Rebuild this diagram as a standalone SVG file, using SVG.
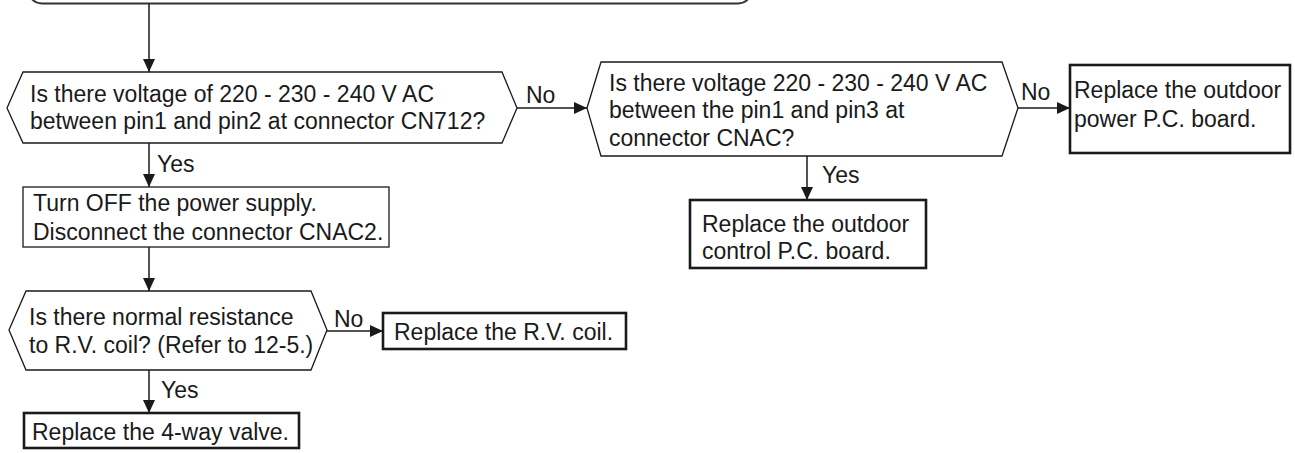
<svg xmlns="http://www.w3.org/2000/svg" width="1295" height="453" viewBox="0 0 1295 453">
<style>
text{font-family:"Liberation Sans",Arial,sans-serif;font-size:23px;fill:#1a1a1a}
.thin{fill:#fff;stroke:#1a1a1a;stroke-width:1.3}
.thick{fill:#fff;stroke:#1a1a1a;stroke-width:2.6}
.conn{fill:none;stroke:#1a1a1a;stroke-width:1.5}
</style>
<defs>
<marker id="ah" markerUnits="userSpaceOnUse" markerWidth="13" markerHeight="12" refX="13" refY="6" orient="auto">
<path d="M0,0 L13,6 L0,12 z" fill="#1a1a1a"/>
</marker>
</defs>
<rect width="1295" height="453" fill="#fff"/>
<g id="start">
<rect x="28" y="-40" width="724" height="43.5" rx="14" fill="#fff" stroke="#333" stroke-width="2"/>
</g>
<g id="q1">
<polygon class="thin" points="7,108 23,72 502,72 517,108 502,143 23,143"/>
<text x="30" y="102">Is there voltage of 220 - 230 - 240 V AC</text>
<text x="30" y="129">between pin1 and pin2 at connector CN712?</text>
</g>
<g id="q2">
<polygon class="thin" points="587,108 601,62 1002,62 1018,108 1002,156 601,156"/>
<text x="609" y="91">Is there voltage 220 - 230 - 240 V AC</text>
<text x="609" y="118">between the pin1 and pin3 at</text>
<text x="609" y="146">connector CNAC?</text>
</g>
<g id="powerpcb">
<rect class="thick" x="1070" y="65" width="220" height="88"/>
<text x="1074" y="98">Replace the outdoor</text>
<text x="1074" y="127">power P.C. board.</text>
</g>
<g id="controlpcb">
<rect class="thick" x="690" y="200" width="236" height="68"/>
<text x="702" y="232">Replace the outdoor</text>
<text x="702" y="259">control P.C. board.</text>
</g>
<g id="turnoff">
<rect class="thin" x="23" y="187" width="366" height="60"/>
<text x="33" y="211">Turn OFF the power supply.</text>
<text x="33" y="240">Disconnect the connector CNAC2.</text>
</g>
<g id="q3">
<polygon class="thin" points="9,330 26,291 311,291 327,330 311,370 26,370"/>
<text x="29" y="325">Is there normal resistance</text>
<text x="29" y="353">to R.V. coil? (Refer to 12-5.)</text>
</g>
<g id="rvcoil">
<rect class="thick" x="383" y="313" width="243" height="36"/>
<text x="394" y="340">Replace the R.V. coil.</text>
</g>
<g id="valve">
<rect class="thick" x="24" y="413" width="275" height="35"/>
<text x="32" y="440">Replace the 4-way valve.</text>
</g>
<g id="connectors">
<line class="conn" x1="149" y1="3.5" x2="149" y2="72" marker-end="url(#ah)"/>
<line class="conn" x1="517" y1="108" x2="587" y2="108" marker-end="url(#ah)"/>
<text x="526" y="103">No</text>
<line class="conn" x1="1018" y1="108" x2="1070" y2="108" marker-end="url(#ah)"/>
<text x="1021" y="100">No</text>
<line class="conn" x1="807" y1="156" x2="807" y2="200" marker-end="url(#ah)"/>
<text x="822" y="183">Yes</text>
<line class="conn" x1="149" y1="143" x2="149" y2="187" marker-end="url(#ah)"/>
<text x="157" y="172">Yes</text>
<line class="conn" x1="149" y1="247" x2="149" y2="291" marker-end="url(#ah)"/>
<line class="conn" x1="327" y1="331" x2="383" y2="331" marker-end="url(#ah)"/>
<text x="334" y="327">No</text>
<line class="conn" x1="149" y1="370" x2="149" y2="413" marker-end="url(#ah)"/>
<text x="161" y="398">Yes</text>
</g>
</svg>
